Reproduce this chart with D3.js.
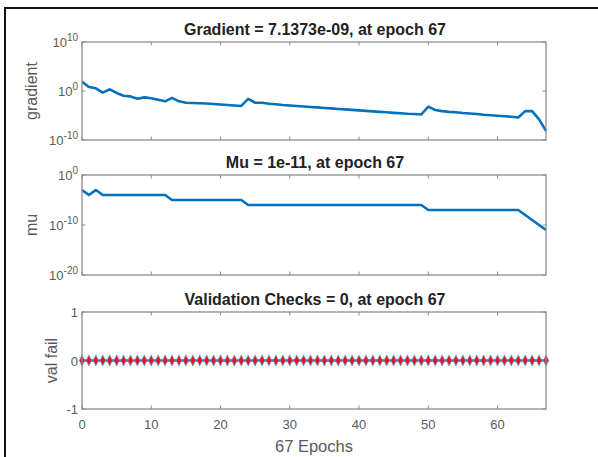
<!DOCTYPE html>
<html>
<head>
<meta charset="utf-8">
<script src="https://cdn.jsdelivr.net/npm/d3@7"></script>
<style>
  body { margin: 0; background: #fff; }
  text { font-family: "Liberation Sans", Arial, sans-serif; }
</style>
</head>
<body>
<div id="chart"></div>
<script>
// epochs 0..67
const epochs = d3.range(0, 68);

const gradientValues = [
  79, 6.3, 3.5, 0.45, 2.2, 0.4, 0.11, 0.079, 0.027, 0.05,
  0.032, 0.016, 0.0079, 0.04, 0.0079, 0.004, 0.0035, 0.0032, 0.0028, 0.0022,
  0.0018, 0.0014, 0.0011, 0.00089, 0.025, 0.004, 0.004, 0.0025, 0.002, 0.0014,
  0.0011, 0.00087, 7.1e-4, 5.6e-4, 4.5e-4, 3.5e-4, 2.8e-4, 2.2e-4, 1.8e-4, 1.4e-4,
  1.1e-4, 8.9e-5, 7.1e-5, 5.6e-5, 4.5e-5, 3.5e-5, 2.8e-5, 2.2e-5, 2.0e-5, 1.6e-5,
  6.3e-4, 1.3e-4, 7.9e-5, 5.6e-5, 4.5e-5, 3.2e-5, 2.5e-5, 2.0e-5, 1.4e-5, 1.1e-5,
  8.9e-6, 7.1e-6, 5.6e-6, 4.0e-6, 7.9e-5, 7.9e-5, 1.6e-6, 7.1373e-9
];

const muValues = [
  1e-3, 1e-4, 1e-3, 1e-4, 1e-4, 1e-4, 1e-4, 1e-4, 1e-4, 1e-4,
  1e-4, 1e-4, 1e-4, 1e-5, 1e-5, 1e-5, 1e-5, 1e-5, 1e-5, 1e-5,
  1e-5, 1e-5, 1e-5, 1e-5, 1e-6, 1e-6, 1e-6, 1e-6, 1e-6, 1e-6,
  1e-6, 1e-6, 1e-6, 1e-6, 1e-6, 1e-6, 1e-6, 1e-6, 1e-6, 1e-6,
  1e-6, 1e-6, 1e-6, 1e-6, 1e-6, 1e-6, 1e-6, 1e-6, 1e-6, 1e-6,
  1e-7, 1e-7, 1e-7, 1e-7, 1e-7, 1e-7, 1e-7, 1e-7, 1e-7, 1e-7,
  1e-7, 1e-7, 1e-7, 1e-7, 1e-8, 1e-9, 1e-10, 1e-11
];

const valFailValues = epochs.map(() => 0);

const xTicks = [0, 10, 20, 30, 40, 50, 60];
const gradientTicks = [1e10, 1e0, 1e-10];
const muTicks = [1e0, 1e-10, 1e-20];
const valTicks = [1, 0, -1];

const W = 598, H = 457;
const left = 82, right = 546;
const lineColor = "#0072BD";
const axisColor = "#8c8c8c";
const labelColor = "#5a5a5a";

const svg = d3.select("#chart").append("svg")
  .attr("width", W).attr("height", H);

// outer frame (top + left edges visible)
svg.append("path")
  .attr("d", "M5,457 L5,8 L598,8")
  .attr("fill", "none")
  .attr("stroke", "#111")
  .attr("stroke-width", 2);

const x = d3.scaleLinear().domain([0, 67]).range([left, right]);

function superLabel(sel, v) {
  const e = Math.round(Math.log10(v));
  sel.append("tspan").text("10");
  sel.append("tspan").attr("dy", -6).attr("font-size", 10).text(e);
}

function panel(cfg) {
  const y = cfg.y;
  const g = svg.append("g");

  // ticks (inside, all four sides)
  const tl = 3.5;
  xTicks.forEach(t => {
    g.append("line").attr("x1", x(t)).attr("x2", x(t))
      .attr("y1", cfg.bottom).attr("y2", cfg.bottom - tl)
      .attr("stroke", axisColor);
    g.append("line").attr("x1", x(t)).attr("x2", x(t))
      .attr("y1", cfg.top).attr("y2", cfg.top + tl)
      .attr("stroke", axisColor);
  });
  cfg.ticks.forEach(t => {
    g.append("line").attr("x1", left).attr("x2", left + tl)
      .attr("y1", y(t)).attr("y2", y(t)).attr("stroke", axisColor);
    g.append("line").attr("x1", right).attr("x2", right - tl)
      .attr("y1", y(t)).attr("y2", y(t)).attr("stroke", axisColor);
    const lab = g.append("text")
      .attr("x", left - 4).attr("y", y(t) + 5)
      .attr("text-anchor", "end")
      .attr("font-size", 13)
      .attr("fill", labelColor);
    if (cfg.log) superLabel(lab, t); else lab.text(t);
  });

  // data line
  const line = d3.line()
    .x((d, i) => x(epochs[i]))
    .y(d => y(d));
  g.append("path")
    .datum(cfg.values)
    .attr("d", line)
    .attr("fill", "none")
    .attr("stroke", lineColor)
    .attr("stroke-width", 2.6)
    .attr("stroke-linejoin", "round");

  if (cfg.markers) {
    const sym = d3.symbol().type(d3.symbolDiamond).size(36);
    g.selectAll(".mk").data(cfg.values).join("path")
      .attr("transform", (d, i) => `translate(${x(epochs[i])},${y(d)}) scale(0.85,1)`)
      .attr("d", sym)
      .attr("fill", "#f0101a")
      .attr("stroke", "#5aaee8")
      .attr("stroke-width", 0.8);
  }

  // box
  g.append("rect")
    .attr("x", left).attr("y", cfg.top)
    .attr("width", right - left).attr("height", cfg.bottom - cfg.top)
    .attr("fill", "none").attr("stroke", axisColor).attr("stroke-width", 1.3);

  // title
  svg.append("text")
    .attr("x", (left + right) / 2 + 1).attr("y", cfg.top - 7)
    .attr("text-anchor", "middle")
    .attr("font-size", 16).attr("font-weight", "bold")
    .attr("fill", "#222")
    .text(cfg.title);

  // y label
  svg.append("text")
    .attr("transform", `translate(${cfg.ylabX},${(cfg.top + cfg.bottom) / 2}) rotate(-90)`)
    .attr("text-anchor", "middle")
    .attr("font-size", 16)
    .attr("fill", labelColor)
    .text(cfg.ylabel);
}

const gTop = 42, gBot = 140;
panel({
  top: gTop, bottom: gBot, log: true,
  y: d3.scaleLog().domain([1e-10, 1e10]).range([gBot, gTop]),
  ticks: gradientTicks, values: gradientValues,
  title: "Gradient = 7.1373e-09, at epoch 67",
  ylabel: "gradient", ylabX: 37
});

const mTop = 175, mBot = 275;
panel({
  top: mTop, bottom: mBot, log: true,
  y: d3.scaleLog().domain([1e-20, 1e0]).range([mBot, mTop]),
  ticks: muTicks, values: muValues,
  title: "Mu = 1e-11, at epoch 67",
  ylabel: "mu", ylabX: 37
});

const vTop = 312, vBot = 409;
panel({
  top: vTop, bottom: vBot, log: false, markers: true,
  y: d3.scaleLinear().domain([-1, 1]).range([vBot, vTop]),
  ticks: valTicks, values: valFailValues,
  title: "Validation Checks = 0, at epoch 67",
  ylabel: "val fail", ylabX: 57
});

// x tick labels + x label on the bottom panel
svg.append("g").selectAll("text").data(xTicks).join("text")
  .attr("x", d => x(d)).attr("y", vBot + 20)
  .attr("text-anchor", "middle")
  .attr("font-size", 13)
  .attr("fill", labelColor)
  .text(d => d);

svg.append("text")
  .attr("x", (left + right) / 2).attr("y", vBot + 43)
  .attr("text-anchor", "middle")
  .attr("font-size", 16.5)
  .attr("fill", labelColor)
  .text("67 Epochs");
</script>
</body>
</html>
